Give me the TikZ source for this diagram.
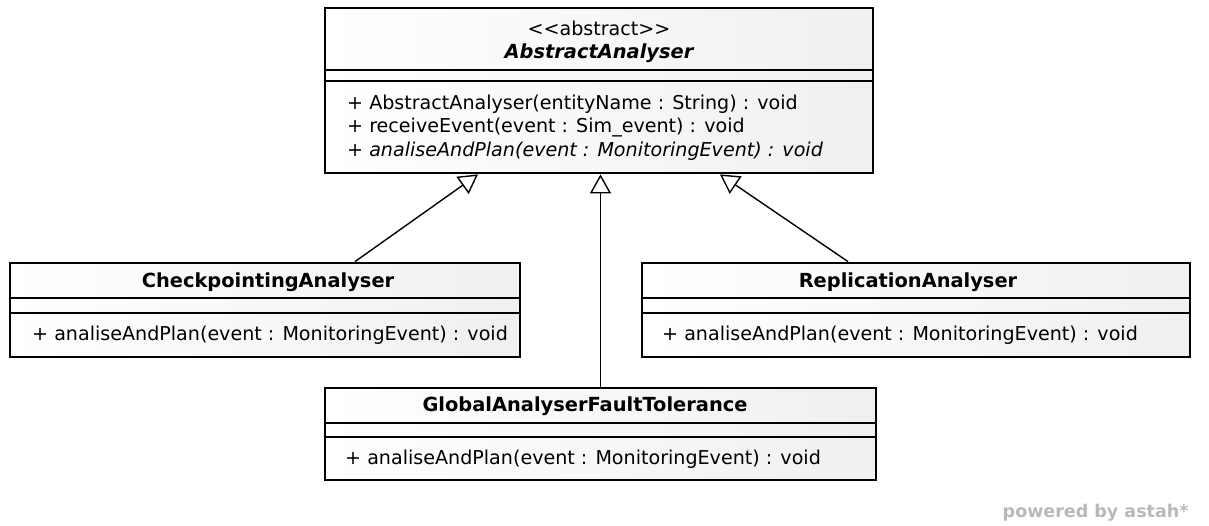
\documentclass[tikz,border=0pt]{standalone}
\usepackage{fontspec}
\setmainfont{DejaVu Sans}
\usetikzlibrary{arrows.meta}
\tikzset{
  umlbox/.style={draw=black,line width=2.8pt,left color=white,right color=black!6,rectangle,inner sep=0pt},
  sepline/.style={line width=1.1pt},
  cname/.style={font=\bfseries\fontsize{19.4}{22}\selectfont},
  member/.style={anchor=base west,inner sep=0pt,font=\fontsize{19.1}{22}\selectfont},
  inherit/.style={line width=1.4pt,-{Triangle[open,fill=white,length=19pt,width=21pt]}}
}
\begin{document}
\begin{tikzpicture}[x=1pt,y=-1pt]
\useasboundingbox (0,0) rectangle (1209,525);
\node[umlbox,minimum width=548pt,minimum height=165pt] (abs) at (599,90.5){};
\node[umlbox,minimum width=510pt,minimum height=94pt] (chk) at (265,310){};
\node[umlbox,minimum width=548pt,minimum height=94pt] (rep) at (916,310){};
\node[umlbox,minimum width=551pt,minimum height=92pt] (glob) at (600.5,434){};
\draw[sepline] (abs.west|-0,70)--(abs.east|-0,70);\draw[sepline] (abs.west|-0,81)--(abs.east|-0,81);
\draw[sepline] (chk.west|-0,298)--(chk.east|-0,298);\draw[sepline] (chk.west|-0,313)--(chk.east|-0,313);
\draw[sepline] (rep.west|-0,298)--(rep.east|-0,298);\draw[sepline] (rep.west|-0,313)--(rep.east|-0,313);
\draw[sepline] (glob.west|-0,423)--(glob.east|-0,423);\draw[sepline] (glob.west|-0,437)--(glob.east|-0,437);
\node[font=\fontsize{19.1}{22}\selectfont] (absst) at (599,28){<{}<abstract>{}>};
\node[font=\bfseries\itshape\fontsize{19.4}{22}\selectfont] (absname) at (599,53){AbstractAnalyser};
\node[member] (absm1) at (347,109){+ AbstractAnalyser(entityName : String) : void};
\node[member] (absm2) at (347,132.5){+ receiveEvent(event : Sim\_event) : void};
\node[member,font=\itshape\fontsize{19.1}{22}\selectfont] (absm3) at (347,156){+ analiseAndPlan(event : MonitoringEvent) : void};
\node[cname] (chkname) at (268,282){CheckpointingAnalyser};
\node[member] (chkm) at (32,340){+ analiseAndPlan(event : MonitoringEvent) : void};
\node[cname] (repname) at (908,282){ReplicationAnalyser};
\node[member] (repm) at (662,340){+ analiseAndPlan(event : MonitoringEvent) : void};
\node[cname] (globname) at (585,406){GlobalAnalyserFaultTolerance};
\node[member] (globm) at (345,464){+ analiseAndPlan(event : MonitoringEvent) : void};
\draw[inherit] ([xshift=90pt]chk.north)--([xshift=-121pt]abs.south);
\draw[inherit] (glob.north)--(glob.north|-abs.south);
\draw[inherit] ([xshift=-68pt]rep.north)--([xshift=121pt]abs.south);
\node[anchor=east,text=black!28,font=\bfseries\fontsize{17.5}{20}\selectfont] (footer) at (1192,513){powered by astah*};
\end{tikzpicture}
\end{document}
